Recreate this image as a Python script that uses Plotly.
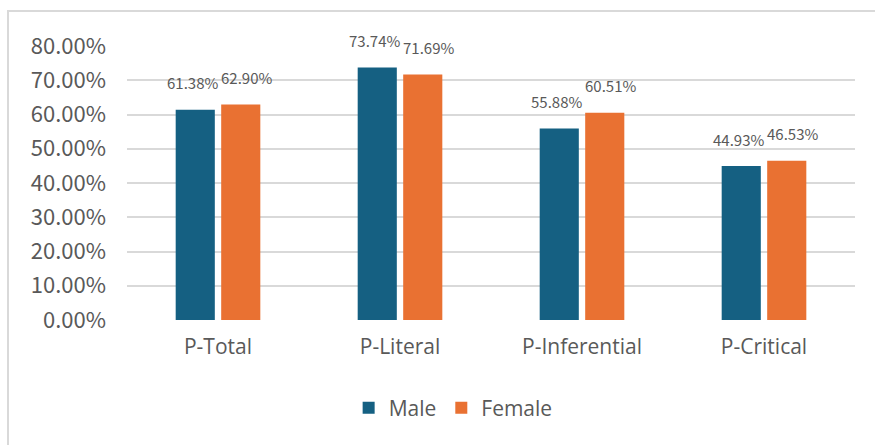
import plotly.graph_objects as go

categories = ["P-Total", "P-Literal", "P-Inferential", "P-Critical"]
male = [61.38, 73.74, 55.88, 44.93]
female = [62.90, 71.69, 60.51, 46.53]
tick_vals = [0, 10, 20, 30, 40, 50, 60, 70, 80]
tick_text = [f"{v:.2f}%" for v in tick_vals]

MALE_C = "#156082"
FEMALE_C = "#E97132"
TXT = "#595959"
FONT = "Noto Sans CJK SC, Open Sans, sans-serif"
FONT2 = "Open Sans, sans-serif"

fig = go.Figure()
fig.add_trace(go.Bar(name="Male", x=categories, y=male, marker=dict(color=MALE_C, line=dict(width=0))))
fig.add_trace(go.Bar(name="Female", x=categories, y=female, marker=dict(color=FEMALE_C, line=dict(width=0))))

for c, m, f in zip(categories, male, female):
    fig.add_annotation(x=c, y=m, text=f"{m:.2f}%", showarrow=False, xshift=-26, yshift=27,
                       font=dict(size=15, color=TXT, family=FONT))
    fig.add_annotation(x=c, y=f, text=f"{f:.2f}%", showarrow=False, xshift=28, yshift=27,
                       font=dict(size=15, color=TXT, family=FONT))

L, R, T, B = 127, 20, 46, 125
W, H = 875, 445
pw, ph = W - L - R, H - T - B
def px(x):
    return (x - L) / pw
def py(y):
    return (H - B - y) / ph

fig.add_shape(type="line", xref="paper", yref="paper", x0=px(7), x1=px(875), y0=py(11), y1=py(11),
              line=dict(color="#D9D9D9", width=2))
fig.add_shape(type="line", xref="paper", yref="paper", x0=px(8), x1=px(8), y0=py(11), y1=py(445),
              line=dict(color="#D9D9D9", width=2))

fig.update_layout(
    width=W, height=H,
    margin=dict(l=L, r=R, t=T, b=B, pad=0),
    paper_bgcolor="white", plot_bgcolor="white",
    barmode="group", bargap=0.5, bargroupgap=0.14,
    font=dict(family=FONT, color=TXT),
    legend=dict(orientation="h", x=0.448, xanchor="center", y=py(408), yanchor="middle",
                font=dict(size=21, color=TXT, family=FONT2), itemwidth=30, traceorder="normal"),
    xaxis=dict(showgrid=False, showline=False, ticks="", ticklabelstandoff=12,
               tickfont=dict(size=21, color=TXT, family=FONT2)),
    yaxis=dict(range=[0, 80], tickvals=tick_vals, ticktext=tick_text, showgrid=True,
               gridcolor="#D9D9D9", gridwidth=2, zeroline=False, showline=False, ticks="",
               ticklabelstandoff=20,
               tickfont=dict(size=22, color=TXT, family=FONT)),
)

fig.write_html("out.html")
